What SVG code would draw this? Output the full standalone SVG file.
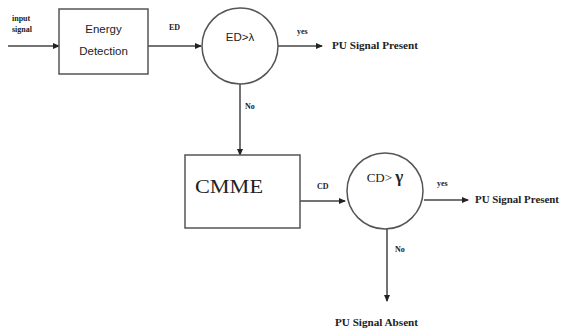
<svg xmlns="http://www.w3.org/2000/svg" width="561" height="334" viewBox="0 0 561 334">
<defs>
<marker id="ah" markerWidth="8" markerHeight="8" refX="6" refY="4" orient="auto" markerUnits="userSpaceOnUse">
<path d="M0,1 L7,4 L0,7 Z" fill="#222"/>
</marker>
<style>
.box{fill:#fff;stroke:#555;stroke-width:1.5}
.line{fill:none;stroke:#444;stroke-width:1.5}
.sm{font-family:"Liberation Serif",serif;font-size:8px;font-weight:bold;fill:#222}
.pu{font-family:"Liberation Serif",serif;font-size:9.5px;font-weight:bold;fill:#222}
.lbl{font-family:"Liberation Sans",sans-serif;font-size:11.5px;fill:#222}
</style>
</defs>
<rect width="561" height="334" fill="#fff"/>
<g id="connectors">
<line class="line" x1="8" y1="46" x2="59" y2="46" marker-end="url(#ah)"/>
<line class="line" x1="148" y1="46" x2="201" y2="46" marker-end="url(#ah)"/>
<line class="line" x1="278" y1="46" x2="322" y2="46" marker-end="url(#ah)"/>
<line class="line" x1="240" y1="84" x2="240" y2="155" marker-end="url(#ah)"/>
<line class="line" x1="300" y1="201" x2="345" y2="201" marker-end="url(#ah)"/>
<line class="line" x1="424" y1="200" x2="468" y2="200" marker-end="url(#ah)"/>
<line class="line" x1="387" y1="228" x2="387" y2="301" marker-end="url(#ah)"/>
<text class="sm" x="169" y="30">ED</text>
<text class="sm" x="297" y="34">yes</text>
<text class="sm" x="245" y="109">No</text>
<text class="sm" x="317" y="189">CD</text>
<text class="sm" x="437" y="186">yes</text>
<text class="sm" x="395" y="252">No</text>
</g>
<g id="input">
<text class="sm" x="12" y="21">input</text>
<text class="sm" x="12" y="32">signal</text>
</g>
<g id="energy-detection">
<rect class="box" x="59" y="9" width="89" height="65"/>
<text class="lbl" x="103.5" y="33" text-anchor="middle">Energy</text>
<text class="lbl" x="103.5" y="55" text-anchor="middle">Detection</text>
</g>
<g id="decision1">
<circle class="box" cx="240" cy="46" r="38"/>
<text class="lbl" x="240" y="41" text-anchor="middle">ED&gt;λ</text>
</g>
<g id="pu-present1">
<text class="pu" x="332" y="49" textLength="86" lengthAdjust="spacingAndGlyphs">PU Signal Present</text>
</g>
<g id="cmme">
<rect class="box" x="185" y="155" width="115" height="73"/>
<text x="195" y="193" font-family="Liberation Serif,serif" font-size="19" fill="#222" textLength="68" lengthAdjust="spacingAndGlyphs">CMME</text>
</g>
<g id="decision2">
<circle class="box" cx="385" cy="191" r="38"/>
<text x="385" y="182" text-anchor="middle" font-family="Liberation Serif,serif" font-size="13" fill="#222">CD&gt; <tspan font-size="17" font-weight="bold">γ</tspan></text>
</g>
<g id="pu-present2">
<text class="pu" x="475" y="203" textLength="84" lengthAdjust="spacingAndGlyphs">PU Signal Present</text>
</g>
<g id="pu-absent">
<text class="pu" x="335" y="326" textLength="83" lengthAdjust="spacingAndGlyphs">PU Signal Absent</text>
</g>
</svg>
